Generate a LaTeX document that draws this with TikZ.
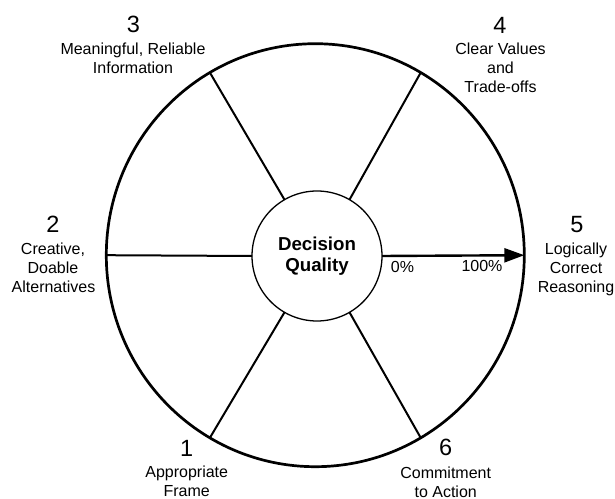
\documentclass[tikz,border=0pt]{standalone}
\usepackage{fontspec}
\setmainfont{Liberation Sans}
\usetikzlibrary{shapes.geometric,arrows.meta}
\begin{document}
\begin{tikzpicture}[x=1pt,y=1pt,
  lbl/.style={font=\fontsize{16}{19}\selectfont, anchor=base, inner sep=0pt},
  num/.style={font=\fontsize{23.5}{28}\selectfont, anchor=base, inner sep=0pt},
  spoke/.style={line width=2pt},
  pointer/.style={line width=2.4pt, -{Triangle[length=20pt,width=14pt]}}]
\useasboundingbox (0,0) rectangle (615,498);

% outer wheel and central hub
\node[ellipse, draw, line width=2.7pt, minimum width=418pt, minimum height=423pt,
      inner sep=0pt, outer sep=0pt] (wheel) at (315.3,242.8) {};
\node[circle, draw, line width=1.3pt, minimum size=130pt, inner sep=0pt, outer sep=0pt,
      align=center, font=\fontsize{18.7}{21.6}\selectfont\bfseries] (dq) at (317,242)
      {Decision\\Quality};

% spokes
\draw[spoke] (dq.60)  -- (wheel.60);
\draw[spoke] (dq.120) -- (wheel.120);
\draw[spoke] (dq.180) -- (wheel.180);
\draw[spoke] (dq.240) -- (wheel.240);
\draw[spoke] (dq.300) -- (wheel.300);

% scale arrow
\draw[pointer] (dq.east) -- (wheel.east);
\node[lbl] (p0)   at (402.5,225.3) {0\%};
\node[lbl] (p100) at (482,226)     {100\%};

% 3
\node[num] (n3)  at (133.5,465.3) {3};
\node[lbl] (l3a) at (133,443)     {Meaningful, Reliable};
\node[lbl] (l3b) at (133,424.3)   {Information};

% 4
\node[num] (n4)  at (500,464.7)   {4};
\node[lbl] (l4a) at (500.5,443.7) {Clear Values};
\node[lbl] (l4b) at (500.5,424.7) {and};
\node[lbl] (l4c) at (500.5,405.7) {Trade-offs};

% 2
\node[num] (n2)  at (53,265.3)   {2};
\node[lbl] (l2a) at (53,243.5)   {Creative,};
\node[lbl] (l2b) at (53,224.5)   {Doable};
\node[lbl] (l2c) at (53.5,205.5) {Alternatives};

% 5
\node[num] (n5)  at (577,265)    {5};
\node[lbl] (l5a) at (576,243.5)  {Logically};
\node[lbl] (l5b) at (576,224.5)  {Correct};
\node[lbl] (l5c) at (576,205.5)  {Reasoning};

% 1
\node[num] (n1)  at (186.7,41.3) {1};
\node[lbl] (l1a) at (186.7,21)   {Appropriate};
\node[lbl] (l1b) at (186.7,1.5)  {Frame};

% 6
\node[num] (n6)  at (445.7,42.3) {6};
\node[lbl] (l6a) at (445.7,20)   {Commitment};
\node[lbl] (l6b) at (445.7,1)    {to Action};
\end{tikzpicture}
\end{document}
